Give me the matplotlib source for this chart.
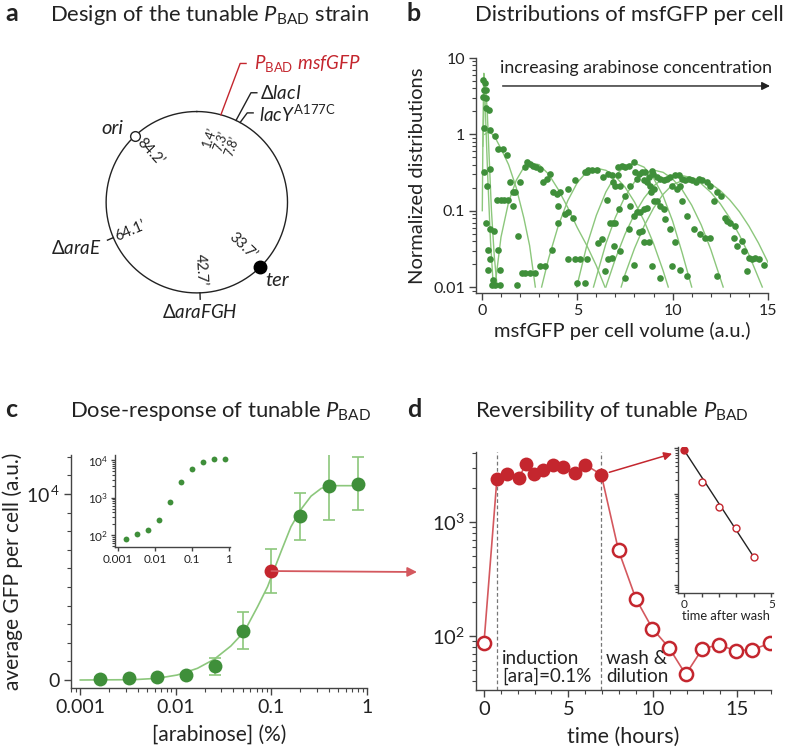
import numpy as np
import matplotlib
matplotlib.use('Agg')
import matplotlib.pyplot as plt
from matplotlib.patches import ConnectionPatch
from matplotlib.ticker import MultipleLocator, FixedLocator, NullFormatter, LogLocator

plt.rcParams['font.family'] = ['Lato', 'DejaVu Sans']
plt.rcParams['mathtext.fontset'] = 'custom'
plt.rcParams['mathtext.rm'] = 'Lato'
plt.rcParams['mathtext.it'] = 'Lato:italic'
plt.rcParams['mathtext.bf'] = 'Lato:bold'

# ---------------- data ----------------
# a: chromosome map (angles clockwise from top, schematic)
ori_angle, ter_angle = 317, 136
pbad_angle, laci_angle, lacy_angle = 15.4, 25.6, 28.5
arae_angle, arafgh_angle = 247, 178
map_labels = ['1.4’', '7.3’', '7.8’', '33.7’', '42.7’', '64.1’', '84.2’']
map_label_angle = [11.5, 21.6, 32, 134, 177, 247, 317]
map_label_r = [0.734, 0.726, 0.731, 0.70, 0.75, 0.80, 0.76]

# b: normalized distributions (dots) and their fits
dots_low_x = [0.07, 0.16, 0.10, 0.24, 0.07, 0.21, 0.24, 0.38, 0.10, 0.45, 0.10, 0.45, 0.28,
              0.21, 0.63, 0.42, 0.33, 0.86, 0.42, 0.33, 0.94, 0.59, 0.51, 0.68, 0.94,
              0.68, 0.86, 1.12, 1.33, 1.47, 1.64, 1.73, 1.82, 1.91, 0.80, 0.98, 1.16, 1.35, 1.64]
dots_low_y = [5.1, 4.7, 3.8, 3.8, 3.1, 3.0, 2.2, 2.1, 1.2, 1.15, 0.32, 0.35, 0.21,
              0.07, 0.054, 0.057, 0.031, 0.031, 0.023, 0.0166, 0.0166, 0.0125, 0.0107, 0.0107, 0.0105,
              0.95, 0.65, 0.65, 0.53, 0.236, 0.174, 0.174, 0.0107, 0.047, 0.14, 0.14, 0.14, 0.14, 0.116]
dots_mid_x = [1.99, 2.26, 2.38, 2.52, 2.69, 2.83, 3.04, 3.18, 3.43, 3.57, 3.74, 3.95, 4.00, 4.35,
              4.53, 4.79, 2.08, 2.26, 2.52, 2.78, 3.04, 3.30, 3.65, 4.00, 4.09, 4.53, 4.88, 5.40,
              5.49, 5.58, 5.75, 6.01, 4.53, 4.88, 5.14, 5.49, 4.97, 5.40,
              6.10, 6.28, 6.54, 6.71, 6.89, 6.36, 6.63, 6.89, 7.15, 6.63, 6.45]
dots_mid_y = [0.236, 0.37, 0.43, 0.41, 0.39, 0.37, 0.354, 0.236, 0.26, 0.304, 0.174, 0.166, 0.116, 0.09,
              0.095, 0.081, 0.0153, 0.0153, 0.0153, 0.0153, 0.019, 0.019, 0.031, 0.07, 0.174, 0.193, 0.25, 0.32,
              0.32, 0.336, 0.336, 0.336, 0.023, 0.023, 0.023, 0.023, 0.0113, 0.0113,
              0.038, 0.042, 0.14, 0.07, 0.07, 0.275, 0.30, 0.236, 0.37, 0.023, 0.0161]
dots_high_x = [6.83, 7.12, 7.35, 7.52, 7.70, 7.96, 7.26, 7.00, 8.05, 8.22, 8.40, 8.57, 8.75, 8.92,
               8.98, 7.79, 8.14, 8.49, 8.66, 8.80, 9.01, 8.84, 9.19, 9.36, 9.53, 9.71, 9.88, 10.15,
               10.32, 10.50, 10.67, 10.85, 11.02, 11.20, 11.37, 11.55, 11.81, 11.98, 9.97, 10.23, 10.41,
               7.52, 7.79, 8.14, 8.31, 8.49, 8.66, 7.96, 7.17, 7.00, 7.70, 8.22, 8.40, 8.49, 8.75,
               9.01, 9.19, 9.36, 9.53, 9.62, 9.88, 10.15, 9.97, 10.41, 10.76, 9.36, 7.52, 7.96, 8.92,
               6.91, 6.83, 7.26, 10.50, 10.76, 11.11, 11.46, 11.72, 11.98, 12.33,
               12.33, 12.16, 12.51, 12.77, 12.86, 13.03, 13.29, 13.21, 13.38, 13.64, 13.73, 13.99,
               14.17, 14.34, 14.52, 13.91, 14.78]
dots_high_y = [0.294, 0.294, 0.39, 0.37, 0.39, 0.43, 0.213, 0.213, 0.32, 0.304, 0.32, 0.32, 0.28, 0.33,
               0.30, 0.213, 0.26, 0.25, 0.236, 0.213, 0.193, 0.174, 0.275, 0.26, 0.25, 0.26, 0.275, 0.29,
               0.29, 0.26, 0.25, 0.26, 0.25, 0.236, 0.26, 0.25, 0.236, 0.213, 0.213, 0.193, 0.213,
               0.157, 0.116, 0.095, 0.095, 0.105, 0.11, 0.086, 0.105, 0.07, 0.057, 0.052, 0.054, 0.039, 0.039,
               0.135, 0.135, 0.116, 0.105, 0.077, 0.057, 0.039, 0.0188, 0.0169, 0.0138, 0.0131, 0.0131, 0.0197, 0.0188,
               0.034, 0.024, 0.030, 0.135, 0.086, 0.057, 0.049, 0.044, 0.044, 0.0138,
               0.174, 0.135, 0.157, 0.081, 0.074, 0.07, 0.063, 0.044, 0.034, 0.040, 0.030, 0.024,
               0.023, 0.024, 0.023, 0.0161, 0.0197]

fits_b = [
    ([0.02, 0.06, 0.10, 0.14, 0.20, 0.30, 0.45, 0.60],
     [0.1, 1.5, 6.3, 4.5, 1.5, 0.3, 0.04, 0.01]),
    ([0.05, 0.12, 0.20, 0.28, 0.38, 0.50, 0.65, 0.80],
     [0.7, 3.0, 4.0, 2.0, 0.5, 0.1, 0.025, 0.01]),
    ([0.15, 0.40, 0.70, 1.0, 1.4, 1.8, 2.2, 2.5, 2.8],
     [1.0, 1.1, 0.9, 0.65, 0.4, 0.2, 0.08, 0.035, 0.01]),
    ([0.68, 1.0, 1.4, 1.8, 2.2, 2.6, 3.0, 3.5, 4.0, 4.5, 5.0, 5.5, 6.0, 6.45],
     [0.01, 0.045, 0.13, 0.25, 0.37, 0.42, 0.40, 0.30, 0.19, 0.11, 0.06, 0.035, 0.019, 0.01]),
    ([3.13, 3.5, 4.0, 4.5, 5.0, 5.5, 6.0, 6.5, 7.0, 7.5, 8.0, 8.5, 9.0, 9.5, 9.77],
     [0.01, 0.0238, 0.063, 0.135, 0.233, 0.323, 0.36, 0.338, 0.28, 0.204, 0.13, 0.074, 0.037, 0.0164, 0.01]),
    ([4.97, 5.5, 6.0, 6.5, 7.0, 7.5, 8.0, 8.5, 9.0, 9.5, 10.0, 10.5, 11.0],
     [0.01, 0.035, 0.087, 0.176, 0.288, 0.387, 0.42, 0.372, 0.266, 0.156, 0.073, 0.028, 0.01]),
    ([5.85, 6.5, 7.0, 7.5, 8.0, 8.5, 9.0, 9.5, 10.0, 10.5, 11.0, 11.5, 12.0, 12.65],
     [0.01, 0.037, 0.082, 0.153, 0.238, 0.311, 0.34, 0.318, 0.26, 0.188, 0.118, 0.065, 0.031, 0.01]),
    ([6.5, 7.0, 7.5, 8.0, 8.5, 9.0, 9.5, 10.2, 11.0, 11.5, 12.0, 12.5, 13.0, 13.5, 14.0, 14.7],
     [0.01, 0.0235, 0.049, 0.09, 0.146, 0.21, 0.265, 0.30, 0.27, 0.226, 0.174, 0.123, 0.08, 0.048, 0.0265, 0.01]),
    ([7.3, 7.5, 8.0, 8.5, 9.0, 9.5, 10.0, 10.9, 11.5, 12.0, 12.5, 13.0, 13.5, 14.0, 14.5, 15.0],
     [0.01, 0.0145, 0.032, 0.0627, 0.108, 0.164, 0.22, 0.27, 0.255, 0.225, 0.183, 0.138, 0.097, 0.0627, 0.0377, 0.021]),
]

# c: dose response
arabinose = [0.0016, 0.0032, 0.0064, 0.0128, 0.0256, 0.05, 0.1, 0.2, 0.4, 0.8]
gfp_mean = [80, 105, 135, 250, 740, 2650, 5860, 8800, 10450, 10550]
gfp_err = [60, 60, 70, 100, 470, 1000, 1170, 1250, 1830, 1430]
chosen_ara = 0.1
fit_ara = [0.001, 0.00363, 0.00638, 0.01035, 0.0168, 0.0251, 0.0376, 0.0519, 0.0716, 0.0912,
           0.103, 0.126, 0.160, 0.204, 0.26, 0.331, 0.42, 0.80]
fit_gfp = [0, 18, 90, 269, 627, 1110, 1826, 2596, 3940, 5020,
           5735, 6900, 8240, 9180, 9890, 10300, 10450, 10450]

# d: reversibility
time_h = [0, 0.77, 1.38, 2.07, 2.5, 2.99, 3.48, 4.11, 4.70, 5.37, 6.0, 6.95,
          7.97, 9.0, 9.98, 10.96, 11.95, 12.93, 13.92, 14.9, 15.89, 16.93]
gfp_time = [86, 2400, 2620, 2450, 3230, 2655, 2857, 3185, 3060, 2710, 3185, 2600,
            563, 212, 116, 79, 46, 77, 84, 74, 76, 86]
t_induce, t_wash = 0.77, 6.95
wash_t = [0, 1, 2, 3, 4]
wash_gfp = [904, 180, 51, 17.8, 4.1]
wash_fit_t = [0, 4]
wash_fit_gfp = [904, 4.1]

# ---------------- style ----------------
ink = '#222222'
green = '#3f8f3a'
green_light = '#8cc77c'
red = '#c4262e'
red_light = '#d4585e'
lac_label_rot = 70

W, H = 787, 751


def box(left, top, right, bottom):
    # pixel box -> figure fraction
    return [left / W, 1 - bottom / H, (right - left) / W, (bottom - top) / H]


def style_axis(ax, fs):
    for s in ['top', 'right']:
        ax.spines[s].set_visible(False)
    for s in ['left', 'bottom']:
        ax.spines[s].set_color('#444444')
        ax.spines[s].set_linewidth(1.0)
    ax.tick_params(which='major', direction='out', length=5, width=1, color='#444444',
                   labelsize=fs, labelcolor=ink, pad=3)
    ax.tick_params(which='minor', direction='out', length=3, width=0.8, color='#444444')


fig = plt.figure(figsize=(W / 100, H / 100), dpi=100)

# ---------------- panel a ----------------
axa = fig.add_axes(box(0, 30, 390, 370))
axa.set_xlim(-2.170, 2.130)
axa.set_ylim(-1.850, 1.899)
axa.axis('off')


def pos(angle, r=1.0):
    a = np.deg2rad(angle)
    return r * np.sin(a), r * np.cos(a)


th = np.linspace(0, 360, 361)
axa.plot(*pos(th), color=ink, lw=1.0)
axa.plot(*pos(ori_angle), 'o', ms=7, mfc='white', mec=ink, mew=1.0, zorder=3)
axa.plot(*pos(ter_angle), 'o', ms=9, color='black', zorder=3)
for i, (lab, ang, r) in enumerate(zip(map_labels, map_label_angle, map_label_r)):
    rot = 90 - ang
    while rot <= -90:
        rot += 180
    while rot > 90:
        rot -= 180
    if i < 3:
        rot = lac_label_rot
    x, y = pos(ang, r)
    axa.text(x, y, lab, rotation=rot, rotation_mode='anchor', ha='center', va='center',
             fontsize=9 if i < 3 else 10.5, color=ink)
for ang in [arae_angle, arafgh_angle]:
    p0, p1 = pos(ang, 1.0), pos(ang, 1.07)
    axa.plot([p0[0], p1[0]], [p0[1], p1[1]], color=ink, lw=1.0)

# leaders to the lac / PBAD loci
for ang, ex, ey, col in [(pbad_angle, 0.478, 1.53, red), (laci_angle, 0.597, 1.207, ink),
                         (lacy_angle, 0.556, 0.985, ink)]:
    p0 = pos(ang, 1.0)
    axa.plot([p0[0], ex, ex + 0.065], [p0[1], ey, ey], color=col, lw=1.0)
axa.text(0.633, 1.53, r'$P_{\mathrm{BAD}}\ \mathit{msfGFP}$', color=red, fontsize=13.5,
         ha='left', va='center')
axa.text(0.70, 1.20, r'$\Delta\mathit{lacI}$', color=ink, fontsize=13.5, ha='left', va='center')
axa.text(0.69, 0.975, r'$\mathit{lacY}^{\mathrm{A177C}}$', color=ink, fontsize=13.5,
         ha='left', va='center')
axa.text(-0.93, 0.812, 'ori', style='italic', fontsize=14.5, ha='center', va='center', color=ink)
axa.text(0.889, -0.860, 'ter', style='italic', fontsize=14.5, ha='center', va='center', color=ink)
axa.text(-1.326, -0.51, r'$\Delta\mathit{araE}$', fontsize=13.5, ha='center', va='center', color=ink)
axa.text(0.036, -1.208, r'$\Delta\mathit{araFGH}$', fontsize=13.5, ha='center', va='center', color=ink)

# ---------------- panel b ----------------
axb = fig.add_axes(box(476, 58, 768, 293))
axb.set_yscale('log')
for fx, fy in fits_b:
    axb.plot(fx, fy, color=green_light, lw=1.0, zorder=2)
for dx, dy in [(dots_low_x, dots_low_y), (dots_mid_x, dots_mid_y), (dots_high_x, dots_high_y)]:
    axb.plot(dx, dy, 'o', ms=4.8, color=green, mec='none', zorder=3)
axb.set_xlim(-0.31, 15.0)
axb.set_ylim(0.00835, 10)
style_axis(axb, 11.5)
axb.set_xticks([0, 5, 10, 15])
axb.xaxis.set_minor_locator(MultipleLocator(1))
axb.yaxis.set_major_locator(FixedLocator([0.01, 0.1, 1, 10]))
axb.set_yticklabels(['0.01', '0.1', '1', '10'])
axb.yaxis.set_minor_locator(LogLocator(base=10, subs=np.arange(2, 10)))
axb.yaxis.set_minor_formatter(NullFormatter())
axb.set_xlabel('msfGFP per cell volume (a.u.)', fontsize=14.5, color=ink, labelpad=3)
axb.set_ylabel('Normalized distributions', fontsize=14.5, color=ink, labelpad=5)
axb.annotate('', xy=(15.25, 4.3), xytext=(0.94, 4.3),
             arrowprops=dict(arrowstyle='-|>', color=ink, lw=1.0, mutation_scale=12),
             annotation_clip=False)
axb.text(0.94, 7.3, 'increasing arabinose concentration', fontsize=12.8, color=ink,
         ha='left', va='center')

# ---------------- panel c ----------------
axc = fig.add_axes(box(71, 455, 367, 688))
axc.set_xscale('log')
axc.plot(fit_ara, fit_gfp, color=green_light, lw=1.2, zorder=2)
is_chosen = np.isclose(arabinose, chosen_ara)
ara = np.array(arabinose)
mean = np.array(gfp_mean)
err = np.array(gfp_err)
axc.errorbar(ara, mean, yerr=err, fmt='none', ecolor=green_light, elinewidth=1.2,
             capsize=4, capthick=1.2, zorder=2)
axc.plot(ara[~is_chosen], mean[~is_chosen], 'o', ms=10, color=green, mec='none', zorder=4)
axc.plot(ara[is_chosen], mean[is_chosen], 'o', ms=10, color=red, mec='none', zorder=5)
axc.set_xlim(0.0008, 1.0)
axc.set_ylim(-430, 12100)
style_axis(axc, 14)
axc.xaxis.set_major_locator(FixedLocator([0.001, 0.01, 0.1, 1]))
axc.set_xticklabels(['0.001', '0.01', '0.1', '1'])
axc.xaxis.set_minor_locator(LogLocator(base=10, subs=np.arange(2, 10)))
axc.xaxis.set_minor_formatter(NullFormatter())
axc.set_yticks([0, 10000])
axc.set_yticklabels(['0', r'$10^{\,4}$'])
axc.yaxis.set_minor_locator(MultipleLocator(1000))
axc.set_xlabel('[arabinose] (%)', fontsize=15, color=ink, labelpad=6)
axc.set_ylabel('average GFP per cell (a.u.)', fontsize=15, color=ink, labelpad=2)

# inset of c
axci = fig.add_axes(box(115, 455, 230, 547))
axci.set_xscale('log')
axci.set_yscale('log')
axci.plot(arabinose, gfp_mean, 'o', ms=4.2, color=green, mec='none')
axci.set_xlim(0.00083, 1.07)
axci.set_ylim(48, 13600)
style_axis(axci, 8.5)
axci.tick_params(which='major', length=3, pad=2)
axci.tick_params(which='minor', length=2)
axci.xaxis.set_major_locator(FixedLocator([0.001, 0.01, 0.1, 1]))
axci.set_xticklabels(['0.001', '0.01', '0.1', '1'])
axci.xaxis.set_minor_locator(FixedLocator([]))
axci.yaxis.set_major_locator(FixedLocator([100, 1000, 10000]))
axci.set_yticklabels([r'$10^2$', r'$10^3$', r'$10^4$'])
axci.yaxis.set_minor_locator(LogLocator(base=10, subs=np.arange(2, 10)))
axci.yaxis.set_minor_formatter(NullFormatter())
axci.patch.set_alpha(0)

# ---------------- panel d ----------------
axd = fig.add_axes(box(476, 452, 771, 690))
axd.set_yscale('log')
tt = np.array(time_h)
gg = np.array(gfp_time)
induced = (tt >= t_induce - 0.01) & (tt <= t_wash + 0.01)
for t in [t_induce, t_wash]:
    axd.axvline(t, color='#777777', lw=0.9, ls=(0, (3, 2)), zorder=1)
axd.plot(tt, gg, '-', color=red_light, lw=1.2, zorder=2)
axd.plot(tt[induced], gg[induced], 'o', ms=10, color=red, mec='none', zorder=3)
axd.plot(tt[~induced], gg[~induced], 'o', ms=9.5, mfc='white', mec=red, mew=1.8, zorder=3)
axd.set_xlim(-0.47, 17.0)
axd.set_ylim(33.6, 4110)
style_axis(axd, 14.5)
axd.set_xticks([0, 5, 10, 15])
axd.xaxis.set_minor_locator(MultipleLocator(1))
axd.yaxis.set_major_locator(FixedLocator([100, 1000]))
axd.set_yticklabels([r'$10^2$', r'$10^3$'])
axd.yaxis.set_minor_locator(LogLocator(base=10, subs=np.arange(2, 10)))
axd.yaxis.set_minor_formatter(NullFormatter())
axd.set_xlabel('time (hours)', fontsize=15.5, color=ink, labelpad=6)
axd.text(t_induce + 0.3, 53, 'induction\n[ara]=0.1%', fontsize=13.5, color=ink,
         ha='left', va='center', linespacing=1.05)
axd.text(t_wash + 0.3, 53, 'wash &\ndilution', fontsize=13.5, color=ink,
         ha='left', va='center', linespacing=1.05)

# inset of d
axdi = fig.add_axes(box(678, 447, 773, 593))
axdi.set_yscale('log')
axdi.plot(wash_fit_t, wash_fit_gfp, '-', color=ink, lw=1.0, zorder=2)
axdi.plot(wash_t[:1], wash_gfp[:1], 'o', ms=6, color=red, mec='none', zorder=3)
axdi.plot(wash_t[1:], wash_gfp[1:], 'o', ms=5, mfc='white', mec=red, mew=1.0, zorder=3)
axdi.set_xlim(-0.35, 5.1)
axdi.set_ylim(0.67, 1060)
style_axis(axdi, 8.5)
axdi.tick_params(which='major', length=3, pad=1)
axdi.tick_params(which='minor', length=2)
axdi.set_xticks(range(6))
axdi.set_xticklabels(['0', '', '', '', '', '5'])
axdi.yaxis.set_major_locator(FixedLocator([1, 10, 100, 1000]))
axdi.set_yticklabels([])
axdi.yaxis.set_minor_locator(LogLocator(base=10, subs=np.arange(2, 10)))
axdi.yaxis.set_minor_formatter(NullFormatter())
axdi.set_xlabel('time after wash', fontsize=9.3, color=ink, labelpad=0)
axdi.patch.set_alpha(0)

# connectors
con_c = ConnectionPatch(xyA=(chosen_ara, mean[is_chosen][0]), coordsA=axc.transData,
                        xyB=(417 / W, 1 - 572 / H), coordsB='figure fraction',
                        arrowstyle='-|>', color=red_light, lw=1.3, mutation_scale=14, zorder=1)
fig.add_artist(con_c)
con_d = ConnectionPatch(xyA=(t_wash, gfp_time[11]), coordsA=axd.transData,
                        xyB=(wash_t[0], wash_gfp[0]), coordsB=axdi.transData,
                        arrowstyle='-|>', color=red, lw=1.1, mutation_scale=12,
                        shrinkA=6, shrinkB=9, zorder=1)
fig.add_artist(con_d)

# ---------------- titles ----------------
for letter, lx, ly in [('a', 5, 20.7), ('b', 407, 20.7), ('c', 5, 417), ('d', 407, 417)]:
    fig.text(lx / W, 1 - ly / H, letter, fontsize=18, fontweight='bold', color=ink, va='baseline')
for title, tx, ty in [(r'Design of the tunable $P_{\mathrm{BAD}}$ strain', 50, 20.7),
                      ('Distributions of msfGFP per cell', 475, 20.7),
                      (r'Dose-response of tunable $P_{\mathrm{BAD}}$', 70, 417),
                      (r'Reversibility of tunable $P_{\mathrm{BAD}}$', 475, 417)]:
    fig.text(tx / W, 1 - ty / H, title, fontsize=15.8, color=ink, va='baseline')

fig.savefig('out.png', dpi=100)
